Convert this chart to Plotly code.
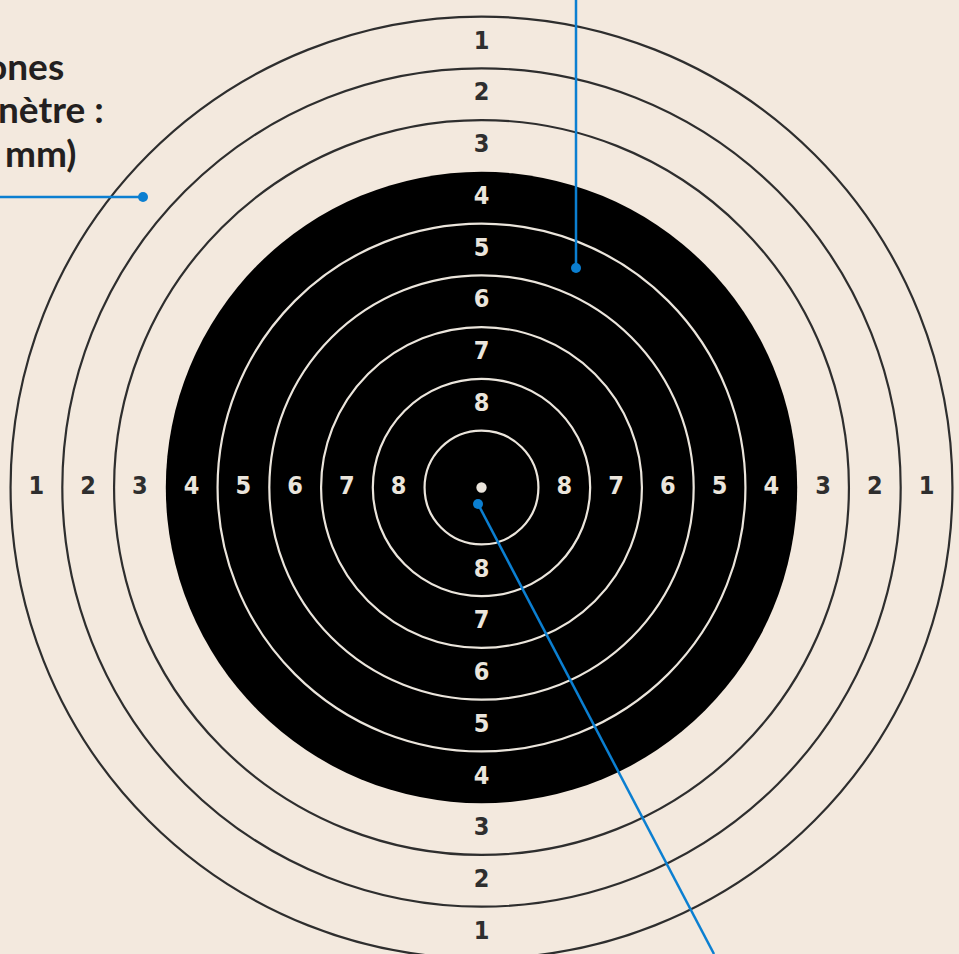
import plotly.graph_objects as go

# ---- data: 10 m air-rifle style target, ring diameters in mm ----
ring_scores = [1, 2, 3, 4, 5, 6, 7, 8, 9, 10]
ring_diameters_mm = [45.5, 40.5, 35.5, 30.5, 25.5, 20.5, 15.5, 10.5, 5.5, 0.5]
black_from_score = 4
label_scores = [1, 2, 3, 4, 5, 6, 7, 8]

# text fragments visible at the top-left (cropped in the original)
note_lines = ["ones", "nètre :", "mm)"]

# ---- layout constants ----
W, H = 959, 954
SCALE = 20.7          # px per mm
CX, CY = 481.5, 487.5  # centre in pixels
BG = "#F3E9DE"
DARK = "#2e2e2e"
LIGHT = "#ebe5dc"
BLUE = "#0b7fd1"

def px_x(p):
    return (p - CX) / SCALE

def px_y(p):
    return (CY - p) / SCALE

xr = [px_x(0), px_x(W)]
yr = [px_y(H), px_y(0)]

fig = go.Figure()
shapes = []

# black disc
d_black = ring_diameters_mm[ring_scores.index(black_from_score)]
rb = d_black / 2
shapes.append(dict(type="circle", xref="x", yref="y", x0=-rb, x1=rb, y0=-rb, y1=rb,
                   fillcolor="black", line=dict(width=0), layer="below"))

# ring lines
for s, d in zip(ring_scores, ring_diameters_mm):
    r = d / 2
    if s == black_from_score:
        continue
    if s == 10:
        shapes.append(dict(type="circle", xref="x", yref="y", x0=-r, x1=r, y0=-r, y1=r,
                           fillcolor=LIGHT, line=dict(width=0)))
        continue
    col = DARK if s < black_from_score else LIGHT
    shapes.append(dict(type="circle", xref="x", yref="y", x0=-r, x1=r, y0=-r, y1=r,
                       line=dict(color=col, width=2.2), fillcolor="rgba(0,0,0,0)"))

# score labels at mid radius of each zone, 4 directions
lx, ly, lt, lc = [], [], [], []
for s in label_scores:
    i = ring_scores.index(s)
    rm = (ring_diameters_mm[i] + ring_diameters_mm[i + 1]) / 4
    col = DARK if s < black_from_score else LIGHT
    for dx, dy in [(0, 1), (0, -1), (-1, 0), (1, 0)]:
        lx.append(dx * rm)
        ly.append(dy * rm)
        lt.append(str(s))
        lc.append(col)

fig.add_trace(go.Scatter(x=lx, y=ly, mode="text", text=lt,
                         textfont=dict(family="DejaVu Sans Condensed, Liberation Sans Narrow, Roboto, sans-serif",
                                       size=25, color=lc, weight="bold"),
                         hoverinfo="skip", showlegend=False))

# ---- blue callouts (pixel positions converted to mm) ----
callouts = [
    [(-5, 197), (143, 197)],
    [(576, -5), (576, 268)],
    [(714, 954), (478, 504)],
]
for seg in callouts:
    (x0p, y0p), (x1p, y1p) = seg
    shapes.append(dict(type="line", xref="x", yref="y",
                       x0=px_x(x0p), y0=px_y(y0p), x1=px_x(x1p), y1=px_y(y1p),
                       line=dict(color=BLUE, width=2.5)))
    rr = 5 / SCALE
    shapes.append(dict(type="circle", xref="x", yref="y",
                       x0=px_x(x1p) - rr, x1=px_x(x1p) + rr,
                       y0=px_y(y1p) - rr, y1=px_y(y1p) + rr,
                       fillcolor=BLUE, line=dict(width=0)))

# ---- top-left text fragments ----
note_right = [66, 106, 79]
note_mid = [66, 109, 153]
annotations = []
for t, xr_px, ym in zip(note_lines, note_right, note_mid):
    annotations.append(dict(text=t, xref="paper", yref="paper",
                            x=xr_px / W, y=1 - ym / H, xanchor="right", yanchor="middle",
                            showarrow=False,
                            font=dict(family="Lato, Open Sans, sans-serif", size=37,
                                      color="#231f20", weight="bold")))

fig.update_layout(
    width=W, height=H,
    margin=dict(l=0, r=0, t=0, b=0),
    paper_bgcolor=BG, plot_bgcolor=BG,
    xaxis=dict(range=xr, visible=False, fixedrange=True),
    yaxis=dict(range=yr, visible=False, fixedrange=True),
    shapes=shapes,
    annotations=annotations,
    showlegend=False,
)

fig.write_html("out.html", config={"displayModeBar": False},
               post_script="document.body.style.margin='0';document.body.style.overflow='hidden';document.body.style.background='" + BG + "';")
